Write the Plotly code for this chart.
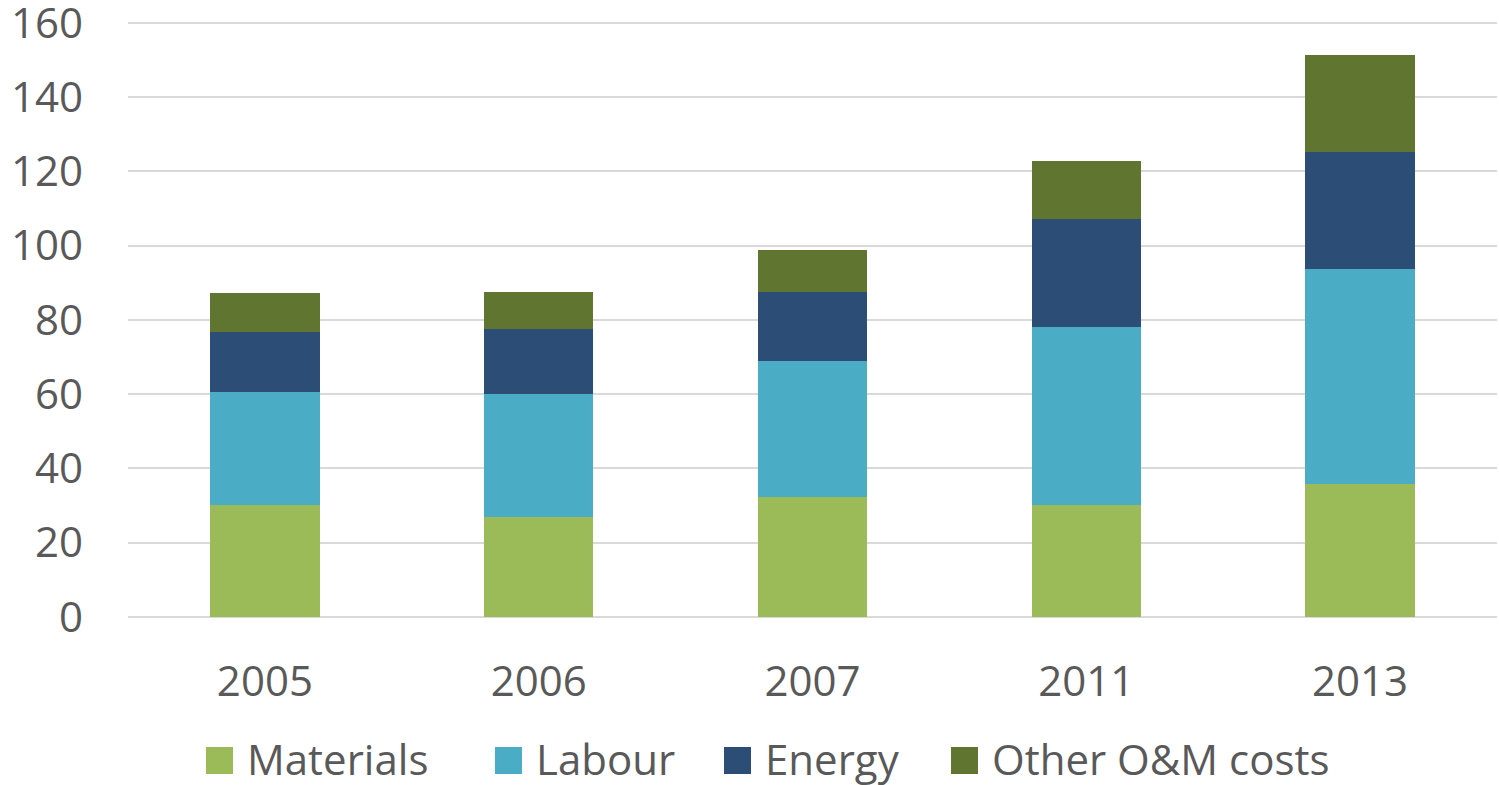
import plotly.graph_objects as go

years = ["2005", "2006", "2007", "2011", "2013"]
materials = [30.1, 26.9, 32.4, 30.1, 35.9]
labour = [30.4, 33.2, 36.5, 47.9, 57.8]
energy = [16.3, 17.5, 18.6, 29.2, 31.5]
other = [10.5, 10.0, 11.3, 15.5, 26.1]

series_names = ["Materials", "Labour", "Energy", "Other O&M costs"]
series_values = [materials, labour, energy, other]
series_colors = ["#9BBB59", "#4BACC6", "#2C4D75", "#5F7530"]
y_ticks = [0, 20, 40, 60, 80, 100, 120, 140, 160]
y_max = 160.5

FONT = "Open Sans, Arial, sans-serif"
TXT = "#595959"
W, H = 1499, 785
ML, MR, MT, MB = 128, 2, 21, 168
PW, PH = W - ML - MR, H - MT - MB

# legend layout (pixel positions of each key's square, left edge)
legend_sq_left = [206, 495, 724, 951]
legend_sq_size = 27
legend_center_y = 760.5
legend_text_gap = 12


def px_x(px):
    return (px - ML) / PW


def px_y(py):
    return (H - MB - py) / PH


fig = go.Figure()
for name, vals, col in zip(series_names, series_values, series_colors):
    fig.add_trace(go.Bar(x=years, y=vals, name=name, marker_color=col,
                         marker_line_width=0, showlegend=False))

shapes, annos = [], []
for name, col, left in zip(series_names, series_colors, legend_sq_left):
    shapes.append(dict(type="rect", xref="paper", yref="paper",
                       x0=px_x(left), x1=px_x(left + legend_sq_size),
                       y0=px_y(legend_center_y + legend_sq_size / 2),
                       y1=px_y(legend_center_y - legend_sq_size / 2),
                       fillcolor=col, line_width=0, layer="above"))
    annos.append(dict(text=name, xref="paper", yref="paper",
                      x=px_x(left + legend_sq_size + legend_text_gap),
                      y=px_y(legend_center_y - 2), xanchor="left",
                      yanchor="middle", showarrow=False,
                      font=dict(size=42, color=TXT, family=FONT)))

fig.update_layout(
    barmode="stack",
    bargap=0.6,
    width=W, height=H,
    margin=dict(l=ML, r=MR, t=MT, b=MB, autoexpand=False),
    paper_bgcolor="white", plot_bgcolor="white",
    font=dict(family=FONT, size=42, color=TXT),
    showlegend=False,
    shapes=shapes,
    annotations=annos,
    xaxis=dict(type="category", showgrid=False, showline=False,
               ticks="", ticklabelstandoff=36, automargin=False,
               tickfont=dict(size=42, color=TXT)),
    yaxis=dict(range=[0, y_max], autorange=False, tickvals=y_ticks,
               showgrid=True, automargin=False, ticklabeloverflow="allow",
               gridcolor="#D9D9D9", gridwidth=1.5, zeroline=True,
               zerolinecolor="#D9D9D9", zerolinewidth=1.5,
               ticks="", ticklabelstandoff=44,
               tickfont=dict(size=42, color=TXT)),
)

fig.write_html("out.html", config={"displayModeBar": False},
               post_script="document.body.style.margin='0';")
